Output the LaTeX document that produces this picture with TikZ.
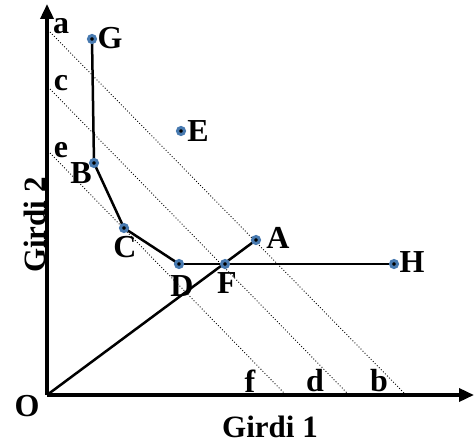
\documentclass[tikz,border=0pt]{standalone}
\usepackage{fontspec}
\setmainfont{Liberation Serif}
\usetikzlibrary{arrows.meta}
\definecolor{ringblue}{RGB}{72,122,176}
\begin{document}
\begin{tikzpicture}[x=1pt,y=-1pt,
  axis/.style={line width=3.5pt,-{Triangle[length=15pt,width=13pt]}},
  guide/.style={line width=0.9pt,dotted},
  thickline/.style={line width=2.5pt,line join=round},
  thinline/.style={line width=1.6pt},
  pt/.style={circle,draw=ringblue,fill=black,line width=3pt,minimum size=7pt,inner sep=0pt},
  lab/.style={inner sep=0pt,font=\fontsize{32}{32}\selectfont\bfseries},
  axlab/.style={inner sep=0pt,font=\fontsize{31}{31}\selectfont\bfseries}]
\useasboundingbox (0,0) rectangle (474,444);
% coordinates
\coordinate (O) at (47,395);
\coordinate (Ytip) at (47,4);
\coordinate (Xtip) at (474,395);
\coordinate (G) at (92,39);
\coordinate (E) at (181,131);
\coordinate (B) at (94,163);
\coordinate (C) at (124,228);
\coordinate (D) at (179,264);
\coordinate (F) at (225,264);
\coordinate (A) at (256,240);
\coordinate (H) at (394,264);
\coordinate (a) at (50,32);
\coordinate (b) at (406,395);
\coordinate (c) at (50,89);
\coordinate (d) at (349,395);
\coordinate (e) at (50,153);
\coordinate (f) at (286,395);
% guide lines
\draw[guide] (a) -- (b);
\draw[guide] (c) -- (d);
\draw[guide] (e) -- (f);
% curves
\draw[thinline] (D) -- (H);
\draw[thickline] (G) -- (B) -- (C) -- (D);
\draw[thickline] (O) -- (A);
% axes
\draw[axis] (O) -- (Ytip);
\draw[axis] (O) -- (Xtip);
% points
\foreach \p in {G,E,B,C,D,F,A,H} \node[pt] (p\p) at (\p) {};
% labels
\node[lab] (lG) at (110,38) {G};
\node[lab] (lE) at (198,131) {E};
\node[lab] (lB) at (81,173) {B};
\node[lab] (lC) at (125,247) {C};
\node[lab] (lD) at (182,286) {D};
\node[lab] (lF) at (227,283) {F};
\node[lab] (lA) at (278,238) {A};
\node[lab] (lH) at (412,262) {H};
\node[lab] (la) at (61,26) {a};
\node[lab] (lc) at (61,83) {c};
\node[lab] (le) at (61,150) {e};
\node[lab] (lf) at (250,381) {f};
\node[lab] (ld) at (315,381) {d};
\node[lab] (lb) at (379,381) {b};
\node[lab] (lO) at (27,406) {O};
\node[axlab,anchor=base] (lx) at (270,437) {Girdi 1};
\node[axlab,anchor=base,rotate=90] (ly) at (45,225) {Girdi 2};
\end{tikzpicture}
\end{document}
